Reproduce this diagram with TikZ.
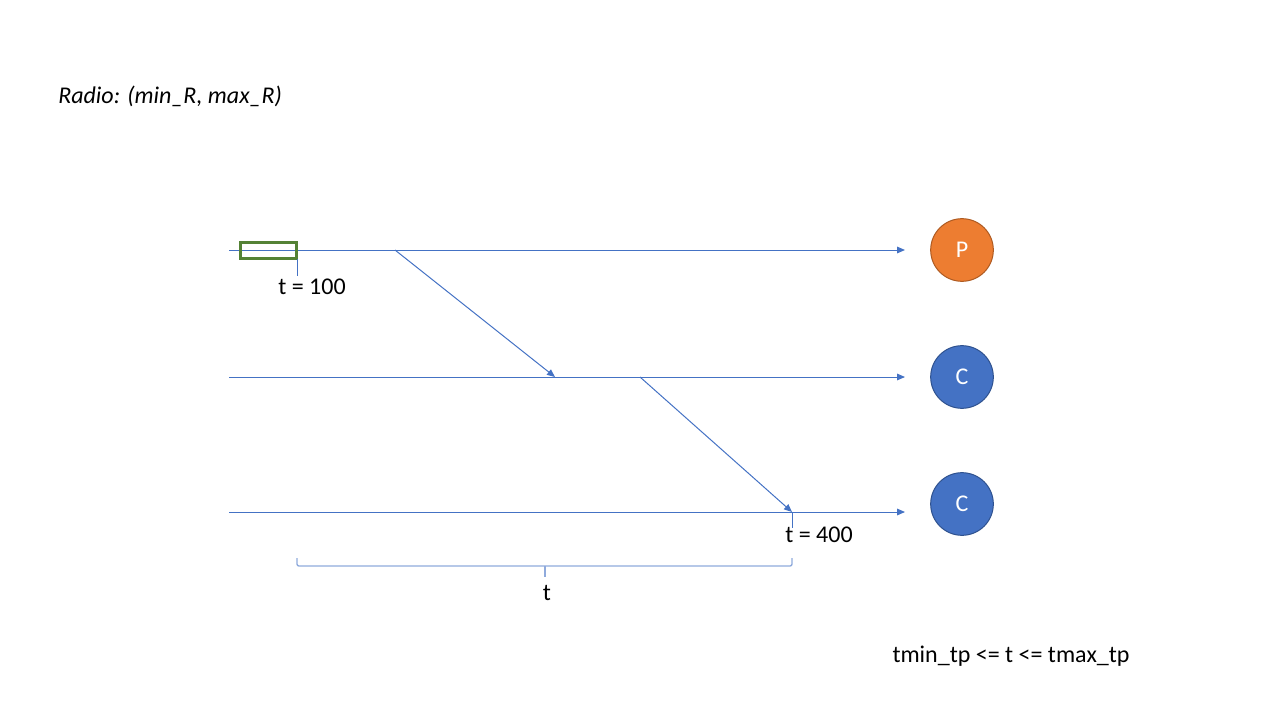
\documentclass[tikz,border=0pt]{standalone}
\usepackage{fontspec}
\setmainfont{Carlito}
\usetikzlibrary{arrows.meta}
\definecolor{lblue}{HTML}{4472C4}
\definecolor{brc}{HTML}{8FAADC}
\definecolor{gbox}{HTML}{548235}
\definecolor{orng}{HTML}{ED7D31}
\definecolor{orngd}{HTML}{AE5A21}
\definecolor{blued}{HTML}{2F528F}
\tikzset{
  timeline/.style={draw=lblue, line width=0.75pt, -{Triangle[length=6pt,width=5pt]}},
  msg/.style={draw=lblue, line width=0.75pt, -{Triangle[length=6pt,width=5pt]}},
  tick/.style={draw=lblue, line width=0.75pt},
  lbl/.style={font=\fontsize{18}{20}\selectfont, inner sep=0pt},
  circ/.style={circle, minimum size=47pt, inner sep=0pt, line width=0.75pt, text=white, font=\fontsize{18}{20}\selectfont},
}
\begin{document}
\begin{tikzpicture}[x=0.75pt,y=-0.75pt]
\useasboundingbox (0,0) rectangle (1280,720);
\node[lbl, anchor=west, font=\fontsize{18}{20}\selectfont\itshape] (title) at (58,96) {Radio: (min\_R, max\_R)};
% lines
\coordinate (a1) at (229,250); \coordinate (a2) at (905,250);
\coordinate (b1) at (229,377); \coordinate (b2) at (905,377);
\coordinate (c1) at (229,512); \coordinate (c2) at (905,512);
\draw[timeline] (a1) -- (a2);
\draw[timeline] (b1) -- (b2);
\draw[timeline] (c1) -- (c2);
% messages
\coordinate (m1s) at (395,250); \coordinate (m1e) at (555,377);
\coordinate (m2s) at (640,377); \coordinate (m2e) at (792,512);
\draw[msg] (m1s) -- (m1e);
\draw[msg] (m2s) -- (m2e);
% green box
\node[draw=gbox, line width=2.2pt, minimum width=42pt, minimum height=12.5pt, inner sep=0pt] (gb) at (268.5,250.5) {};
\coordinate (t1a) at (297,259); \coordinate (t1b) at (297,276);
\draw[tick] (t1a) -- (t1b);
\node[lbl] (t100) at (312,287) {t = 100};
\coordinate (t4a) at (792,512); \coordinate (t4b) at (792,528);
\draw[tick] (t4a) -- (t4b);
\node[lbl] (t400) at (819,535) {t = 400};
% brace
\coordinate (br1) at (297,558); \coordinate (br2) at (792,558);
\coordinate (brm) at (545,566); \coordinate (brt) at (545,577);
\draw[draw=brc, line width=1pt, rounded corners=1.5pt] (br1) -- (297,566) -- (792,566) -- (br2);
\draw[draw=brc, line width=1pt] (brm) -- (brt);
\node[lbl] (tt) at (547,593) {t};
% circles
\node[circ, fill=orng, draw=orngd] (P) at (962,250) {P};
\node[circ, fill=lblue, draw=blued] (C1) at (962,377) {C};
\node[circ, fill=lblue, draw=blued] (C2) at (962,504) {C};
\node[lbl] (cond) at (1011,656) {tmin\_tp <= t <= tmax\_tp};
\end{tikzpicture}
\end{document}
